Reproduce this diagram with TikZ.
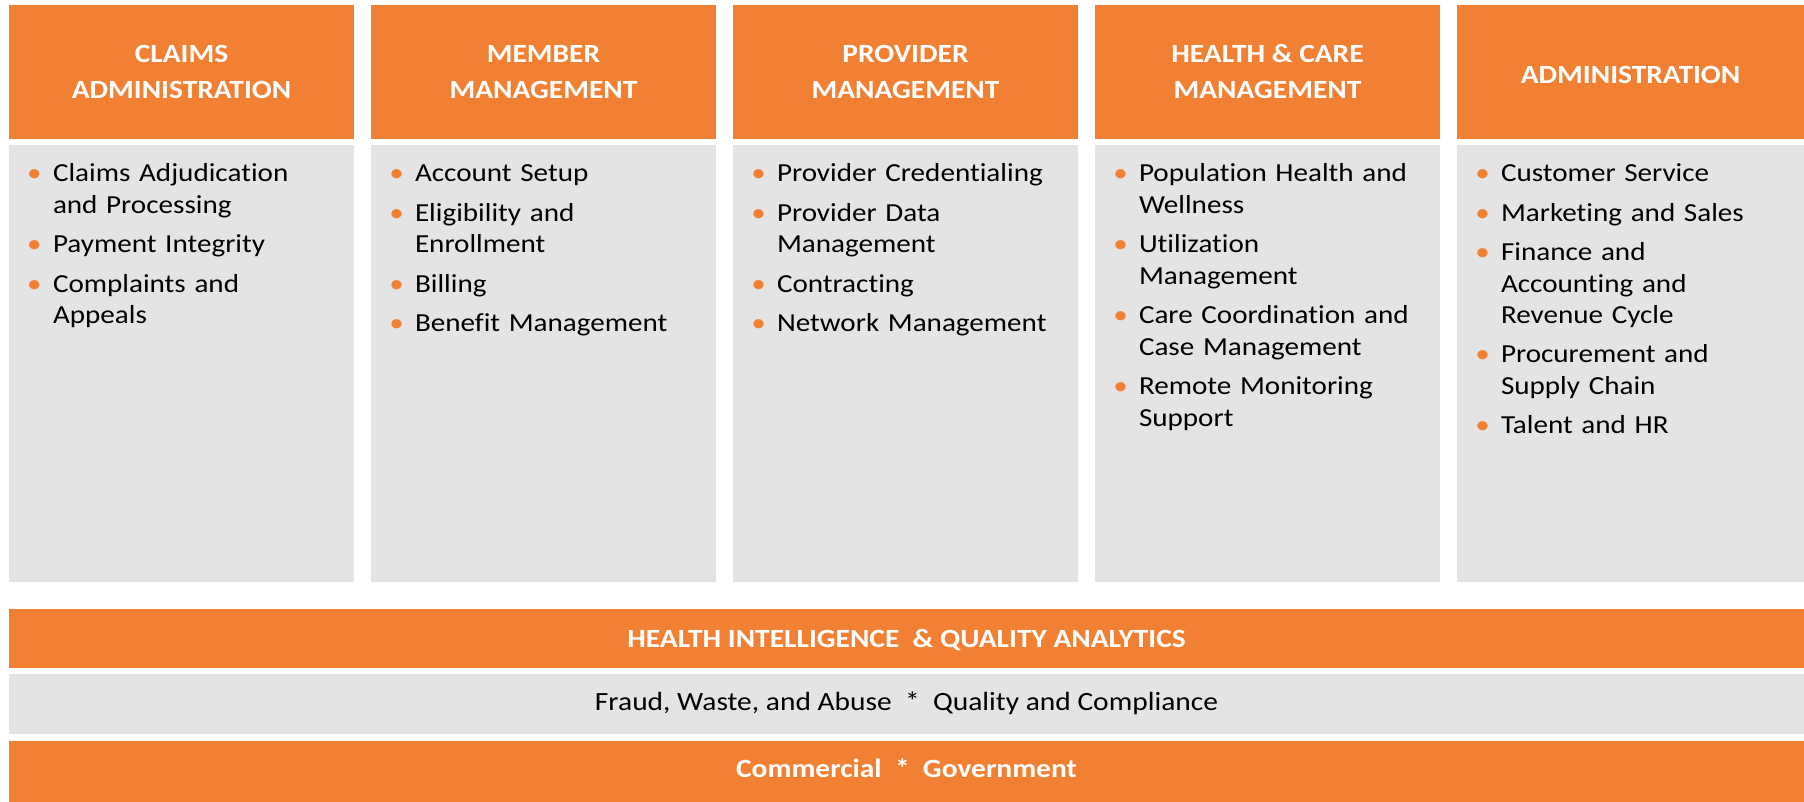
\documentclass[tikz,border=0pt]{standalone}
\usepackage{fontspec}
\setmainfont{Carlito}[FakeStretch=1.12, Ligatures={NoCommon,NoContextual}]
\usetikzlibrary{positioning}

\definecolor{hcorange}{HTML}{F28032}
\definecolor{hcgray}{HTML}{E4E4E4}
% bullet sits in a box left of the text
\newcommand{\bitem}[1]{\noindent\llap{\makebox[37pt]{\textcolor{hcorange}{\textbullet}}}#1\par}

\begin{document}
\begin{tikzpicture}[x=1pt,y=-1pt,
    headbox/.style={fill=hcorange, text=white, minimum width=345pt, minimum height=134pt,
      inner sep=0pt, align=center, font=\fontsize{26.3}{36}\selectfont\bfseries,
      execute at begin node={\rule{0pt}{23.5pt}}},
    bodybox/.style={fill=hcgray, minimum width=345pt, minimum height=437pt, inner sep=0pt},
    itemlist/.style={anchor=base west, text width=300pt, inner sep=0pt, align=left,
      xshift=44pt, yshift=-36.7pt, font=\fontsize{26}{31.7}\selectfont,
      execute at begin node={\setlength{\parskip}{7.5pt}}},
    band/.style={fill=hcorange, text=white, minimum width=1795pt, inner sep=0pt,
      font=\fontsize{26.3}{32}\selectfont\bfseries},
    greyband/.style={fill=hcgray, text=black, minimum width=1795pt, inner sep=0pt,
      font=\fontsize{26.3}{32}\selectfont}]
  \useasboundingbox (0,0) rectangle (1804,801);

  % columns
  \node[headbox] (h1) at (181.5,72) {CLAIMS\\ADMINISTRATION};
  \node[bodybox, below=6pt of h1] (b1) {};
  \node[itemlist] (l1) at (b1.north west) {%
    \bitem{Claims Adjudication\newline and Processing}
    \bitem{Payment Integrity}
    \bitem{Complaints and\newline Appeals}};

  \node[headbox] (h2) at (543.5,72) {MEMBER\\MANAGEMENT};
  \node[bodybox, below=6pt of h2] (b2) {};
  \node[itemlist] (l2) at (b2.north west) {%
    \bitem{Account Setup}
    \bitem{Eligibility and\newline Enrollment}
    \bitem{Billing}
    \bitem{Benefit Management}};

  \node[headbox] (h3) at (905.5,72) {PROVIDER\\MANAGEMENT};
  \node[bodybox, below=6pt of h3] (b3) {};
  \node[itemlist] (l3) at (b3.north west) {%
    \bitem{Provider Credentialing}
    \bitem{Provider Data\newline Management}
    \bitem{Contracting}
    \bitem{Network Management}};

  \node[headbox] (h4) at (1267.5,72) {HEALTH \& CARE\\MANAGEMENT};
  \node[bodybox, below=6pt of h4] (b4) {};
  \node[itemlist] (l4) at (b4.north west) {%
    \bitem{Population Health and\newline Wellness}
    \bitem{Utilization\newline Management}
    \bitem{Care Coordination and\newline Case Management}
    \bitem{Remote Monitoring\newline Support}};

  \node[headbox, minimum width=347pt] (h5) at (1630.5,72) {ADMINISTRATION};
  \node[bodybox, minimum width=347pt, below=6pt of h5] (b5) {};
  \node[itemlist] (l5) at (b5.north west) {%
    \bitem{Customer Service}
    \bitem{Marketing and Sales}
    \bitem{Finance and\newline Accounting and\newline Revenue Cycle}
    \bitem{Procurement and\newline Supply Chain}
    \bitem{Talent and HR}};

  % bands across the bottom
  \node[band, minimum height=59pt, text height=18.4pt, text depth=0pt] (analytics)
    at (906.5,638.5) {HEALTH INTELLIGENCE\ \ \& QUALITY ANALYTICS};
  \node[greyband, below=6pt of analytics, minimum height=60pt,
    text height=16.9pt, text depth=4.9pt] (fwa)
    {Fraud, Waste, and Abuse\ \ *\ \ Quality and Compliance};
  \node[band, below=6pt of fwa, minimum height=61pt,
    text height=16.9pt, text depth=4.5pt] (markets)
    {Commercial\ \ *\ \ Government};
\end{tikzpicture}
\end{document}
